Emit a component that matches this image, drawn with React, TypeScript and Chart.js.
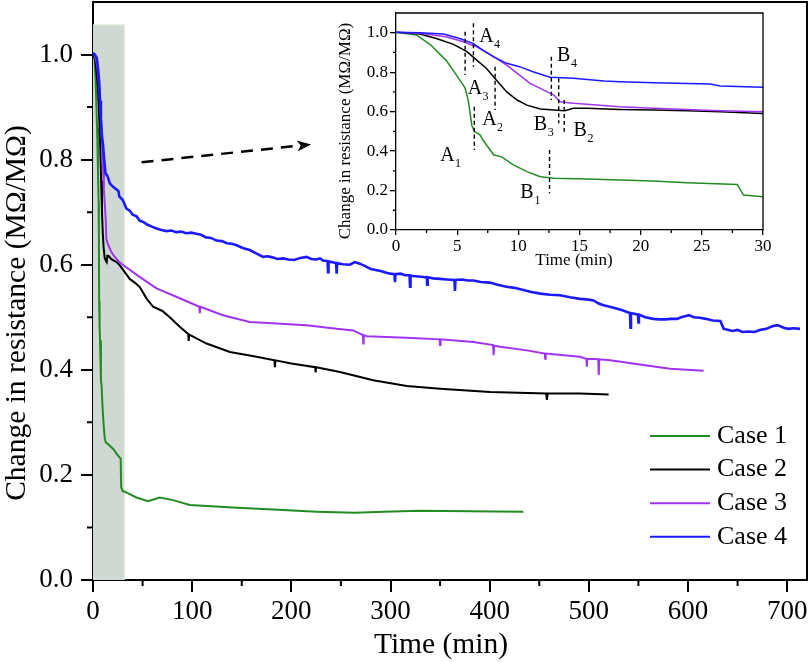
import React, { useEffect, useRef } from "react";
import { Chart, registerables } from "chart.js";

Chart.register(...registerables);

const FONT = "'Liberation Serif', 'Times New Roman', Times, serif";

// ---------------- data ----------------
const CASE_LABELS = ["Case 1", "Case 2", "Case 3", "Case 4"];
const CASE_COLORS = ["#228b22", "#000000", "#a033f0", "#1a1aff"];

const CASE1_T = [0, 1.7, 2.8, 4.1, 5.0, 5.65, 5.9, 6.2, 6.4, 6.9, 7.1, 8.0, 8.6, 9.6, 10.7, 11.8, 12.9, 15.6, 18.3, 21, 23.8, 27.9, 28.4, 30, 32, 43.8, 55.5, 67.3, 80.8, 97.6, 141, 191.8, 225.5, 264, 292.7, 329.8, 380, 434];
const CASE1_V = [1.003, 0.988, 0.94, 0.86, 0.78, 0.72, 0.66, 0.53, 0.5, 0.48, 0.456, 0.38, 0.372, 0.33, 0.296, 0.27, 0.262, 0.258, 0.253, 0.248, 0.24, 0.231, 0.177, 0.169, 0.168, 0.157, 0.15, 0.157, 0.152, 0.1426, 0.138, 0.133, 0.13, 0.128, 0.13, 0.132, 0.131, 0.13];

const CASE2_T = [0, 1.96, 3.3, 4.7, 5.8, 6.6, 7.4, 8.2, 9.05, 9.9, 10.7, 11.8, 12.9, 13.8, 14.5, 15.6, 18.3, 21.1, 23.8, 26.5, 30, 37, 42, 47, 53.9, 60.6, 70, 77.4, 87.5, 96, 96.5, 97, 114.5, 138, 165, 183, 183.4, 184, 200, 224, 224.5, 225, 249, 282.6, 316.4, 350, 400.5, 457, 457.7, 458.5, 491, 520];
const CASE2_V = [1.003, 0.993, 0.971, 0.941, 0.904, 0.861, 0.819, 0.76, 0.7, 0.659, 0.633, 0.613, 0.608, 0.605, 0.617, 0.617, 0.611, 0.608, 0.605, 0.6, 0.591, 0.573, 0.566, 0.558, 0.536, 0.52, 0.512, 0.5, 0.482, 0.468, 0.455, 0.467, 0.45, 0.434, 0.425, 0.418, 0.405, 0.418, 0.412, 0.405, 0.395, 0.405, 0.396, 0.38, 0.369, 0.364, 0.358, 0.355, 0.343, 0.355, 0.355, 0.353];

const CASE3_T = [0, 1.96, 4.1, 5.5, 6.6, 8.0, 9.05, 10.1, 10.96, 11.8, 12.9, 13.4, 14.5, 15.6, 18.3, 21.1, 23.8, 26.5, 30, 47, 64, 84, 107.2, 107.7, 108.2, 131, 158, 185, 215.4, 245.7, 262.5, 272.2, 272.6, 273, 276, 316, 349.5, 350, 350.5, 383.6, 403.5, 404, 404.5, 410.6, 437.5, 455.5, 456, 456.5, 491, 497.5, 498, 498.5, 509.5, 510, 510.5, 521.6, 555, 582, 615.8];
const CASE3_V = [1.003, 0.997, 0.98, 0.954, 0.929, 0.878, 0.836, 0.785, 0.743, 0.718, 0.684, 0.65, 0.642, 0.637, 0.625, 0.617, 0.611, 0.605, 0.6, 0.577, 0.555, 0.539, 0.52, 0.508, 0.52, 0.504, 0.491, 0.488, 0.485, 0.478, 0.475, 0.466, 0.45, 0.466, 0.464, 0.461, 0.458, 0.447, 0.458, 0.453, 0.447, 0.428, 0.446, 0.444, 0.437, 0.431, 0.421, 0.431, 0.425, 0.421, 0.406, 0.421, 0.42, 0.39, 0.42, 0.418, 0.409, 0.402, 0.398];

const CASE4_T = [0, 1.96, 3.9, 5.2, 6.3, 7.1, 8.0, 9.05, 10.1, 11.2, 12.6, 14.5, 17.0, 18.3, 21.1, 23.8, 25.7, 26.5, 30, 33.7, 37, 40, 44, 47, 51, 55, 60, 64, 69, 74, 79, 84, 89, 94, 99, 104, 109, 114, 119, 124.6, 130, 135, 140, 144.8, 151, 158, 165, 171.6, 176, 181, 186, 191.8, 197, 203, 209, 215.4, 220, 225, 229, 232, 236.5, 237, 237.5, 241, 245.2, 245.7, 246.2, 252, 259, 264, 269, 275, 280, 285, 290, 295, 299.5, 304, 304.5, 305, 310, 315, 319.2, 319.7, 320.2, 325, 331, 336.5, 337, 337.5, 343, 350, 357, 364.5, 365, 365.5, 372, 378, 383.6, 391, 400, 408, 417, 425, 434, 442, 451, 461, 471, 481, 491, 498, 504.7, 510, 515, 521, 527, 533, 538.5, 541.5, 542, 542.5, 549.5, 550, 550.5, 557, 565, 571, 577, 583, 589, 593, 597, 601, 605.7, 612, 618, 625, 632.6, 636, 638, 645, 650, 655, 661, 667, 673, 679, 685, 690, 696.6, 701, 706.6, 713, 720];
const CASE4_V = [1.003, 1.0, 0.993, 0.971, 0.946, 0.912, 0.878, 0.845, 0.828, 0.802, 0.774, 0.769, 0.755, 0.752, 0.747, 0.743, 0.74, 0.73, 0.723, 0.707, 0.703, 0.695, 0.692, 0.684, 0.681, 0.676, 0.672, 0.669, 0.666, 0.664, 0.665, 0.662, 0.663, 0.66, 0.661, 0.659, 0.657, 0.652, 0.651, 0.646, 0.645, 0.641, 0.64, 0.637, 0.632, 0.628, 0.621, 0.615, 0.616, 0.614, 0.611, 0.612, 0.61, 0.609, 0.613, 0.615, 0.611, 0.61, 0.612, 0.608, 0.607, 0.586, 0.606, 0.605, 0.603, 0.583, 0.603, 0.601, 0.6, 0.605, 0.602, 0.597, 0.592, 0.59, 0.588, 0.585, 0.583, 0.582, 0.567, 0.582, 0.583, 0.58, 0.58, 0.558, 0.579, 0.578, 0.577, 0.576, 0.562, 0.576, 0.574, 0.573, 0.572, 0.571, 0.55, 0.571, 0.572, 0.57, 0.57, 0.567, 0.566, 0.562, 0.558, 0.556, 0.552, 0.548, 0.545, 0.543, 0.542, 0.538, 0.535, 0.534, 0.532, 0.526, 0.523, 0.52, 0.517, 0.514, 0.51, 0.508, 0.48, 0.508, 0.505, 0.49, 0.505, 0.5, 0.497, 0.496, 0.496, 0.497, 0.497, 0.5, 0.502, 0.504, 0.5, 0.499, 0.497, 0.494, 0.493, 0.478, 0.477, 0.474, 0.476, 0.472, 0.473, 0.472, 0.476, 0.478, 0.483, 0.485, 0.48, 0.478, 0.479, 0.478];

const T_LISTS = [CASE1_T, CASE2_T, CASE3_T, CASE4_T];
const V_LISTS = [CASE1_V, CASE2_V, CASE3_V, CASE4_V];

// main axes
const X_TICKS = [0, 100, 200, 300, 400, 500, 600, 700];
const X_MINOR = [50, 150, 250, 350, 450, 550, 650];
const Y_TICKS = [0, 0.2, 0.4, 0.6, 0.8, 1.0];
const Y_MINOR = [0.1, 0.3, 0.5, 0.7, 0.9];
const X_RANGE = [0, 720];
const Y_RANGE = [0, 1.1];
const SHADE_T = [0, 31.5];
const SHADE_TOP = 1.057;
const ARROW_FROM = [49, 0.795];
const ARROW_TO = [220, 0.829];

// inset axes
const INSET_X_TICKS = [0, 5, 10, 15, 20, 25, 30];
const INSET_X_MINOR = [2.5, 7.5, 12.5, 17.5, 22.5, 27.5];
const INSET_Y_TICKS = [0, 0.2, 0.4, 0.6, 0.8, 1.0];
const INSET_Y_MINOR = [0.1, 0.3, 0.5, 0.7, 0.9];
const INSET_X_RANGE = [0, 30];

// inset annotations (dashed marks and labels)
const MARK_T = [5.65, 6.33, 6.4, 8.1, 12.7, 13.3, 13.75, 12.55];
const MARK_V_TOP = [1.005, 1.048, 0.625, 0.828, 0.878, 0.769, 0.659, 0.405];
const MARK_V_BOTTOM = [0.786, 0.828, 0.405, 0.608, 0.659, 0.541, 0.498, 0.186];
const LABEL_MAIN = ["A", "A", "A", "A", "B", "B", "B", "B"];
const LABEL_SUB = ["1", "2", "3", "4", "1", "2", "3", "4"];
const LABEL_T = [4.2, 7.65, 6.46, 7.4, 10.7, 15.05, 11.8, 13.7];
const LABEL_V = [0.378, 0.56, 0.715, 0.98, 0.19, 0.504, 0.535, 0.884];

const Y_TITLE = "Change in resistance (MΩ/MΩ)";
const X_TITLE = "Time (min)";

function makeDatasets(widths: number[]) {
  return CASE_LABELS.map((label, i) => ({
    label,
    data: T_LISTS[i].map((t, j) => ({ x: t, y: V_LISTS[i][j] })),
    borderColor: CASE_COLORS[i],
    backgroundColor: CASE_COLORS[i],
    borderWidth: widths[i],
    pointRadius: 0,
    fill: false,
    tension: 0,
    order: 3 - i,
  }));
}

function drawMinor(ctx: CanvasRenderingContext2D, chart: any, xs: number[], ys: number[], len: number, lw: number) {
  const { x, y } = chart.scales;
  const area = chart.chartArea;
  ctx.save();
  ctx.strokeStyle = "#000";
  ctx.lineWidth = lw;
  ctx.beginPath();
  xs.forEach((v) => {
    const px = x.getPixelForValue(v);
    ctx.moveTo(px, area.bottom);
    ctx.lineTo(px, area.bottom + len);
  });
  ys.forEach((v) => {
    const py = y.getPixelForValue(v);
    ctx.moveTo(area.left - len, py);
    ctx.lineTo(area.left, py);
  });
  ctx.stroke();
  ctx.restore();
}

function drawFrame(ctx: CanvasRenderingContext2D, chart: any, lw: number) {
  const a = chart.chartArea;
  ctx.save();
  ctx.strokeStyle = "#000";
  ctx.lineWidth = lw;
  ctx.beginPath();
  ctx.moveTo(a.left - lw / 2, a.top);
  ctx.lineTo(a.right, a.top);
  ctx.lineTo(a.right, a.bottom + lw / 2);
  ctx.stroke();
  ctx.restore();
}

const mainDecor = {
  id: "mainDecor",
  beforeDatasetsDraw(chart: any) {
    const { ctx } = chart;
    const { x, y } = chart.scales;
    const x0 = x.getPixelForValue(SHADE_T[0]);
    const x1 = x.getPixelForValue(SHADE_T[1]);
    const y0 = y.getPixelForValue(0);
    const y1 = y.getPixelForValue(SHADE_TOP);
    ctx.save();
    ctx.fillStyle = "#d0d8d4";
    ctx.fillRect(x0, y1, x1 - x0, y0 - y1);
    ctx.strokeStyle = "#e3ecd6";
    ctx.lineWidth = 1;
    ctx.beginPath();
    ctx.moveTo(x0, y1 + 0.5);
    ctx.lineTo(x1 + 0.5, y1 + 0.5);
    ctx.lineTo(x1 + 0.5, y0);
    ctx.stroke();
    ctx.restore();
  },
  afterDraw(chart: any) {
    const { ctx } = chart;
    const { x, y } = chart.scales;
    drawFrame(ctx, chart, 2);
    drawMinor(ctx, chart, X_MINOR, Y_MINOR, 6, 2);

    // dashed arrow
    const ax0 = x.getPixelForValue(ARROW_FROM[0]);
    const ay0 = y.getPixelForValue(ARROW_FROM[1]);
    const ax1 = x.getPixelForValue(ARROW_TO[0]);
    const ay1 = y.getPixelForValue(ARROW_TO[1]);
    const dx = ax1 - ax0, dy = ay1 - ay0;
    const L = Math.hypot(dx, dy);
    const ux = dx / L, uy = dy / L;
    const head = 14, hw = 5.5;
    ctx.save();
    ctx.strokeStyle = "#000";
    ctx.lineWidth = 2.5;
    ctx.setLineDash([12, 8]);
    ctx.beginPath();
    ctx.moveTo(ax0, ay0);
    ctx.lineTo(ax1 - ux * head, ay1 - uy * head);
    ctx.stroke();
    ctx.setLineDash([]);
    ctx.fillStyle = "#000";
    ctx.beginPath();
    ctx.moveTo(ax1, ay1);
    ctx.lineTo(ax1 - ux * head - uy * hw, ay1 - uy * head + ux * hw);
    ctx.lineTo(ax1 - ux * head * 0.75, ay1 - uy * head * 0.75);
    ctx.lineTo(ax1 - ux * head + uy * hw, ay1 - uy * head - ux * hw);
    ctx.closePath();
    ctx.fill();
    ctx.restore();

    // legend
    ctx.save();
    ctx.font = `26px ${FONT}`;
    ctx.textBaseline = "middle";
    ctx.textAlign = "left";
    chart.data.datasets.forEach((ds: any, i: number) => {
      const yy = 436 + i * 33.6;
      ctx.strokeStyle = ds.borderColor;
      ctx.lineWidth = 2;
      ctx.beginPath();
      ctx.moveTo(650, yy);
      ctx.lineTo(710, yy);
      ctx.stroke();
      ctx.fillStyle = "#000";
      ctx.fillText(ds.label, 717, yy);
    });
    ctx.restore();

    // axis titles
    ctx.save();
    ctx.fillStyle = "#000";
    ctx.font = `29.5px ${FONT}`;
    ctx.textAlign = "center";
    ctx.textBaseline = "alphabetic";
    ctx.fillText(X_TITLE, 441, 653);
    ctx.translate(17, 313);
    ctx.rotate(-Math.PI / 2);
    ctx.textBaseline = "middle";
    ctx.fillText(Y_TITLE, 0, 0);
    ctx.restore();
  },
};

const insetDecor = {
  id: "insetDecor",
  afterDraw(chart: any) {
    const { ctx } = chart;
    const { x, y } = chart.scales;
    drawFrame(ctx, chart, 1.3);
    drawMinor(ctx, chart, INSET_X_MINOR, INSET_Y_MINOR, 3, 1.3);

    // dashed marks
    ctx.save();
    ctx.strokeStyle = "#000";
    ctx.lineWidth = 1.4;
    ctx.setLineDash([4, 3]);
    MARK_T.forEach((t, i) => {
      const px = x.getPixelForValue(t);
      ctx.beginPath();
      ctx.moveTo(px, y.getPixelForValue(MARK_V_TOP[i]));
      ctx.lineTo(px, y.getPixelForValue(MARK_V_BOTTOM[i]));
      ctx.stroke();
    });
    ctx.restore();

    // labels
    ctx.save();
    ctx.fillStyle = "#000";
    ctx.textAlign = "center";
    ctx.textBaseline = "middle";
    LABEL_MAIN.forEach((s, i) => {
      const px = x.getPixelForValue(LABEL_T[i]);
      const py = y.getPixelForValue(LABEL_V[i]);
      ctx.font = `20px ${FONT}`;
      ctx.fillText(s, px, py);
      ctx.font = `12px ${FONT}`;
      ctx.fillText(LABEL_SUB[i], px + 10.5, py + 8);
    });
    ctx.restore();

    // titles
    ctx.save();
    ctx.fillStyle = "#000";
    ctx.font = `17px ${FONT}`;
    ctx.textAlign = "center";
    ctx.textBaseline = "alphabetic";
    ctx.fillText(X_TITLE, 254, 265);
    ctx.translate(26, 131);
    ctx.rotate(-Math.PI / 2);
    ctx.textBaseline = "middle";
    ctx.fillText(Y_TITLE, 0, 0);
    ctx.restore();
  },
};

const fitY = (w: number) => (s: any) => {
  s.width = w;
  s.paddingTop = 0;
  s.paddingBottom = 0;
};
const fitX = (h: number) => (s: any) => {
  s.height = h;
  s.paddingLeft = 0;
  s.paddingRight = 0;
};

export default function App() {
  const mainRef = useRef<HTMLCanvasElement>(null);
  const insetRef = useRef<HTMLCanvasElement>(null);

  useEffect(() => {
    const main = new Chart(mainRef.current as HTMLCanvasElement, {
      type: "line",
      data: { datasets: makeDatasets([2, 2, 2, 2.6]) as any },
      options: {
        animation: false,
        responsive: false,
        events: [],
        layout: { padding: { top: 2, right: 4, left: 0, bottom: 0 } },
        plugins: { legend: { display: false }, tooltip: { enabled: false } },
        scales: {
          x: {
            type: "linear",
            min: X_RANGE[0],
            max: X_RANGE[1],
            afterBuildTicks: (s: any) => { s.ticks = X_TICKS.map((v) => ({ value: v })); },
            afterFit: fitX(82),
            ticks: { font: { family: FONT, size: 27 }, color: "#000", padding: 4, maxRotation: 0, autoSkip: false, callback: (v: any) => String(v) },
            grid: { drawOnChartArea: false, drawTicks: true, tickLength: 12, tickColor: "#000", tickWidth: 2, lineWidth: 2 },
            border: { display: true, color: "#000", width: 2 },
          },
          y: {
            type: "linear",
            min: Y_RANGE[0],
            max: Y_RANGE[1],
            afterBuildTicks: (s: any) => { s.ticks = Y_TICKS.map((v) => ({ value: v })); },
            afterFit: fitY(93),
            ticks: { font: { family: FONT, size: 27 }, color: "#000", padding: 8, autoSkip: false, callback: (v: any) => Number(v).toFixed(1) },
            grid: { drawOnChartArea: false, drawTicks: true, tickLength: 12, tickColor: "#000", tickWidth: 2, lineWidth: 2 },
            border: { display: true, color: "#000", width: 2 },
          },
        },
      },
      plugins: [mainDecor],
    });

    const inset = new Chart(insetRef.current as HTMLCanvasElement, {
      type: "line",
      data: { datasets: makeDatasets([1.5, 1.5, 1.5, 1.5]) as any },
      options: {
        animation: false,
        responsive: false,
        events: [],
        layout: { padding: { top: 13, right: 37, left: 0, bottom: 0 } },
        plugins: { legend: { display: false }, tooltip: { enabled: false } },
        scales: {
          x: {
            type: "linear",
            min: INSET_X_RANGE[0],
            max: INSET_X_RANGE[1],
            afterBuildTicks: (s: any) => { s.ticks = INSET_X_TICKS.map((v) => ({ value: v })); },
            afterFit: fitX(55),
            ticks: { font: { family: FONT, size: 17 }, color: "#000", padding: 1, maxRotation: 0, autoSkip: false, callback: (v: any) => String(v) },
            grid: { drawOnChartArea: false, drawTicks: true, tickLength: 5, tickColor: "#000", tickWidth: 1.3, lineWidth: 1.3 },
            border: { display: true, color: "#000", width: 1.3 },
          },
          y: {
            type: "linear",
            min: Y_RANGE[0],
            max: Y_RANGE[1],
            afterBuildTicks: (s: any) => { s.ticks = INSET_Y_TICKS.map((v) => ({ value: v })); },
            afterFit: fitY(76),
            ticks: { font: { family: FONT, size: 17 }, color: "#000", padding: 2, autoSkip: false, callback: (v: any) => Number(v).toFixed(1) },
            grid: { drawOnChartArea: false, drawTicks: true, tickLength: 6, tickColor: "#000", tickWidth: 1.3, lineWidth: 1.3 },
            border: { display: true, color: "#000", width: 1.3 },
          },
        },
      },
      plugins: [insetDecor],
    });

    return () => {
      main.destroy();
      inset.destroy();
    };
  }, []);

  return (
    <div style={{ position: "fixed", left: 0, top: 0, width: 811, height: 662, background: "#fff", overflow: "hidden" }}>
      <canvas ref={mainRef} width={811} height={662} style={{ position: "absolute", left: 0, top: 0, width: 811, height: 662 }} />
      <canvas ref={insetRef} width={480} height={285} style={{ position: "absolute", left: 320, top: 0, width: 480, height: 285 }} />
    </div>
  );
}
